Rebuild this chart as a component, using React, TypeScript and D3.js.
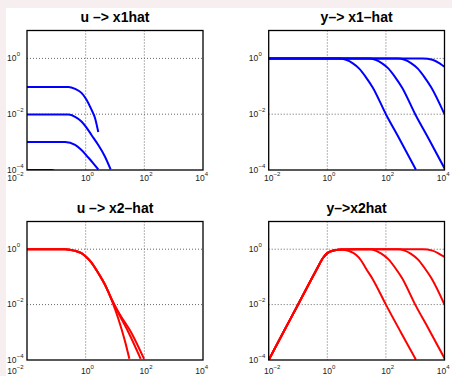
import { useEffect, useRef } from 'react';
import * as d3 from 'd3';

const W = 452;
const H = 376;

const panelTitles = ['u –> x1hat', 'y–> x1–hat', 'u –> x2–hat', 'y–>x2hat'];
const xTicks = [1e-2, 1e0, 1e2, 1e4];
const xTickExp = ['−2', '0', '2', '4'];
const yTicks = [1e-4, 1e-2, 1e0];
const yTickExp = ['−4', '−2', '0'];
const xGrid = [1e0, 1e2];
const yGrid = [1e-2, 1e0];

// u -> x1hat
const ux1A_x = [0.01, 0.257, 0.437, 0.72, 1.07, 1.58, 2.09, 2.69];
const ux1A_y = [0.095, 0.095, 0.081, 0.058, 0.033, 0.0145, 0.0072, 0.0023];
const ux1B_x = [0.01, 0.257, 0.437, 0.72, 1.07, 1.58, 2.69, 4.57, 7.1];
const ux1B_y = [0.0098, 0.0098, 0.0081, 0.0055, 0.0033, 0.0018, 0.00079, 0.0003, 0.000105];
const ux1C_x = [0.01, 0.2, 0.437, 0.72, 1.23, 1.82, 2.69];
const ux1C_y = [0.001, 0.001, 0.00079, 0.00052, 0.00028, 0.000174, 0.000105];
const ux1D_x = [0.01, 0.07, 0.1, 0.15];
const ux1D_y = [0.0001, 0.0001, 0.000085, 0.00006];

// y -> x1hat
const yx1A_x = [0.01, 2.57, 4.37, 7.24, 12.3, 20.9, 35.5, 100, 282, 1050];
const yx1A_y = [1, 1, 0.89, 0.68, 0.43, 0.21, 0.091, 0.01, 0.00138, 0.000105];
const yx1B_x = [0.01, 26, 44, 72, 123, 209, 355, 1000, 2820, 10500];
const yx1B_y = [1, 1, 0.89, 0.68, 0.43, 0.21, 0.091, 0.01, 0.00138, 0.000105];
const yx1C_x = [0.01, 260, 440, 720, 1230, 2090, 3550, 10000];
const yx1C_y = [1, 1, 0.89, 0.68, 0.43, 0.21, 0.091, 0.01];
const yx1D_x = [0.01, 1780, 3890, 6610, 9330, 10000];
const yx1D_y = [1, 1, 0.89, 0.68, 0.53, 0.51];

// u -> x2hat
const ux2A_x = [0.01, 0.2, 0.44, 0.72, 1.07, 1.58, 2.69, 4.57, 7.76, 12.9, 21.9, 30.9];
const ux2A_y = [1, 1, 0.87, 0.72, 0.51, 0.33, 0.138, 0.052, 0.0142, 0.00316, 0.00048, 0.00011];
const ux2B_x = [0.01, 0.2, 0.44, 0.72, 1.07, 1.58, 2.69, 4.57, 7.76, 12.9, 28.2, 75];
const ux2B_y = [1, 1, 0.87, 0.72, 0.51, 0.33, 0.138, 0.052, 0.0151, 0.0051, 0.00105, 0.00011];
const ux2C_x = [0.01, 0.2, 0.44, 0.72, 1.07, 1.58, 2.69, 4.57, 7.76, 12.9, 37.2, 97.7];
const ux2C_y = [1, 1, 0.87, 0.72, 0.51, 0.33, 0.138, 0.052, 0.0154, 0.0055, 0.00091, 0.00011];

// y -> x2hat
const yx2A_x = [0.01, 0.0316, 0.089, 0.25, 0.45, 0.71, 1, 1.78, 3.16, 5.6, 9.5, 14.1, 20.9, 35.5, 100, 316, 1050];
const yx2A_y = [1e-4, 1e-3, 0.0079, 0.063, 0.2, 0.48, 0.72, 0.91, 0.98, 0.85, 0.63, 0.4, 0.2, 0.083, 0.01, 0.00105, 0.000105];
const yx2B_x = [0.01, 0.0316, 0.089, 0.25, 0.45, 0.71, 1, 1.78, 3.16, 10, 30, 44, 72, 123, 209, 355, 1000, 2820, 10500];
const yx2B_y = [1e-4, 1e-3, 0.0079, 0.063, 0.2, 0.48, 0.72, 0.91, 0.98, 1, 1, 0.89, 0.68, 0.43, 0.21, 0.091, 0.01, 0.00138, 0.000105];
const yx2C_x = [0.01, 0.0316, 0.089, 0.25, 0.45, 0.71, 1, 1.78, 3.16, 10, 260, 440, 720, 1230, 2090, 3550, 10000];
const yx2C_y = [1e-4, 1e-3, 0.0079, 0.063, 0.2, 0.48, 0.72, 0.91, 0.98, 1, 1, 0.89, 0.68, 0.43, 0.21, 0.091, 0.01];
const yx2D_x = [0.01, 0.0316, 0.089, 0.25, 0.45, 0.71, 1, 1.78, 3.16, 10, 1780, 3890, 6610, 9330, 10000];
const yx2D_y = [1e-4, 1e-3, 0.0079, 0.063, 0.2, 0.48, 0.72, 0.91, 0.98, 1, 1, 0.89, 0.68, 0.55, 0.53];

const zip = (xs: number[], ys: number[]) => xs.map((x, i) => [x, ys[i]] as [number, number]);

const panelSeries = [
  [zip(ux1A_x, ux1A_y), zip(ux1B_x, ux1B_y), zip(ux1C_x, ux1C_y), zip(ux1D_x, ux1D_y)],
  [zip(yx1A_x, yx1A_y), zip(yx1B_x, yx1B_y), zip(yx1C_x, yx1C_y), zip(yx1D_x, yx1D_y)],
  [zip(ux2A_x, ux2A_y), zip(ux2B_x, ux2B_y), zip(ux2C_x, ux2C_y)],
  [zip(yx2A_x, yx2A_y), zip(yx2B_x, yx2B_y), zip(yx2C_x, yx2C_y), zip(yx2D_x, yx2D_y)],
];
const panelColors = ['#0000ff', '#0000ff', '#ff0000', '#ff0000'];

export default function App() {
  const svgRef = useRef<SVGSVGElement>(null);

  useEffect(() => {
    if (!svgRef.current) return;
    const svg = d3.select(svgRef.current);
    svg.selectAll('*').remove();

    svg.append('rect').attr('width', W).attr('height', H).attr('fill', '#f7efef');
    svg.append('rect').attr('x', 6).attr('y', 8).attr('width', W - 6).attr('height', H - 8).attr('fill', '#fff');

    const font = 'Helvetica, Arial, "Liberation Sans", sans-serif';
    const boxes = [
      { x0: 27, x1: 203, y0: 30.5, y1: 170, titleY: 22, labelY: 181 },
      { x0: 268.7, x1: 444.5, y0: 30.5, y1: 170, titleY: 22, labelY: 181 },
      { x0: 27, x1: 203, y0: 221.5, y1: 360, titleY: 213, labelY: 374 },
      { x0: 268.7, x1: 444.5, y0: 221.5, y1: 360, titleY: 213, labelY: 374 },
    ];

    boxes.forEach((b, pi) => {
      const x = d3.scaleLog().domain([1e-2, 1e4]).range([b.x0, b.x1]);
      const y = d3.scaleLog().domain([1e-4, 1e1]).range([b.y1, b.y0]);
      const g = svg.append('g');

      const clipId = `clip-${pi}`;
      g.append('clipPath')
        .attr('id', clipId)
        .append('rect')
        .attr('x', b.x0)
        .attr('y', b.y0)
        .attr('width', b.x1 - b.x0)
        .attr('height', b.y1 - b.y0);

      // dotted grid
      g.selectAll('.gx')
        .data(xGrid)
        .enter()
        .append('line')
        .attr('x1', (d) => x(d))
        .attr('x2', (d) => x(d))
        .attr('y1', b.y0)
        .attr('y2', b.y1)
        .attr('stroke', '#666')
        .attr('stroke-width', 1)
        .attr('stroke-dasharray', '1,2');
      g.selectAll('.gy')
        .data(yGrid)
        .enter()
        .append('line')
        .attr('x1', b.x0)
        .attr('x2', b.x1)
        .attr('y1', (d) => y(d))
        .attr('y2', (d) => y(d))
        .attr('stroke', '#666')
        .attr('stroke-width', 1)
        .attr('stroke-dasharray', '1,2');

      const line = d3
        .line<[number, number]>()
        .x((d) => x(d[0]))
        .y((d) => y(d[1]))
        .curve(d3.curveMonotoneX);

      g.append('g')
        .attr('clip-path', `url(#${clipId})`)
        .selectAll('path')
        .data(panelSeries[pi])
        .enter()
        .append('path')
        .attr('d', (d) => line(d))
        .attr('fill', 'none')
        .attr('stroke', panelColors[pi])
        .attr('stroke-width', 2)
        .attr('stroke-linejoin', 'round');

      // axes box
      g.append('rect')
        .attr('x', b.x0)
        .attr('y', b.y0)
        .attr('width', b.x1 - b.x0)
        .attr('height', b.y1 - b.y0)
        .attr('fill', 'none')
        .attr('stroke', '#000')
        .attr('stroke-width', 1.3);

      // title
      g.append('text')
        .attr('x', (b.x0 + b.x1) / 2)
        .attr('y', b.titleY)
        .attr('text-anchor', 'middle')
        .attr('font-family', font)
        .attr('font-weight', 'bold')
        .attr('font-size', 14)
        .text(panelTitles[pi]);

      // y tick labels
      yTicks.forEach((t, i) => {
        g.append('text')
          .attr('x', b.x0 - 10.5)
          .attr('y', y(t) + 2.5)
          .attr('text-anchor', 'end')
          .attr('font-family', font)
          .attr('font-size', 8.5)
          .attr('fill', '#222')
          .text('10');
        g.append('text')
          .attr('x', b.x0 - 10.3)
          .attr('y', y(t) - 2.5)
          .attr('font-family', font)
          .attr('font-size', 6)
          .attr('fill', '#222')
          .text(yTickExp[i]);
      });

      // x tick labels
      xTicks.forEach((t, i) => {
        let cx = x(t);
        if (i === 0 && b.x0 < 100) cx = b.x0 - 15;
        if (i === xTicks.length - 1) cx -= 3;
        g.append('text')
          .attr('x', cx)
          .attr('y', b.labelY)
          .attr('text-anchor', 'middle')
          .attr('font-family', font)
          .attr('font-size', 8.5)
          .attr('fill', '#222')
          .text('10');
        g.append('text')
          .attr('x', cx + 4.8)
          .attr('y', b.labelY - 5.5)
          .attr('font-family', font)
          .attr('font-size', 6)
          .attr('fill', '#222')
          .text(xTickExp[i]);
      });
    });
  }, []);

  return (
    <svg
      ref={svgRef}
      width={W}
      height={H}
      style={{ position: 'absolute', left: 0, top: 0 }}
    />
  );
}
